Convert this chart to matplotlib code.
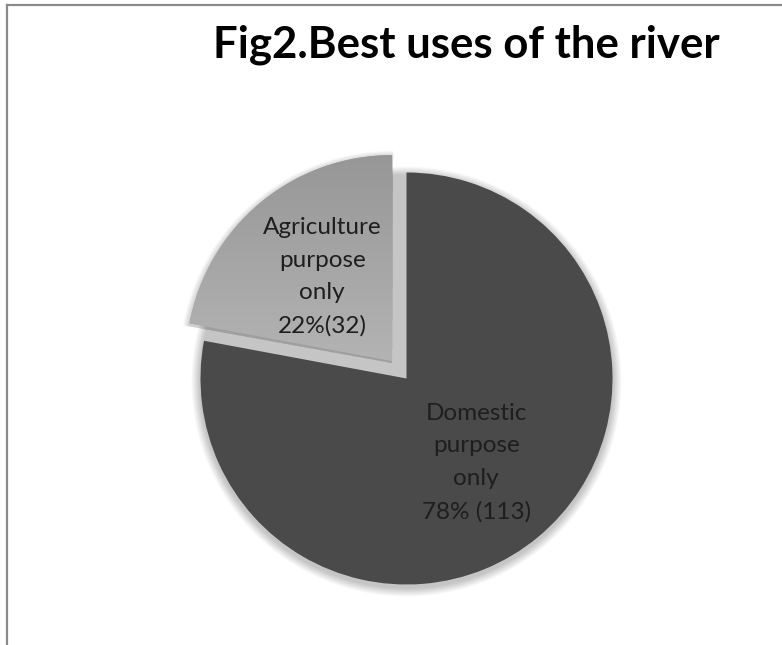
import numpy as np
import matplotlib
matplotlib.use("Agg")
import matplotlib.pyplot as plt
from matplotlib.patches import Wedge
from matplotlib.lines import Line2D

# ---- data ----
title = "Fig2.Best uses of the river"
categories = ["Domestic\npurpose\nonly", "Agriculture\npurpose\nonly"]
counts = [113, 32]
pct_sep = [" ", ""]          # reference formatting: "78% (113)" and "22%(32)"
colors = ["#4a4a4a", "#a8a8a8"]
explode_frac = [0.0, 0.11]

W, H = 782, 645
fig = plt.figure(figsize=(W / 100, H / 100), dpi=100)
fig.patch.set_facecolor("white")
ax = fig.add_axes([0, 0, 1, 1])

R = 206
C = (406.5, H - 378.5)
total = sum(counts)

# soft shadow
for k in range(10, 0, -1):
    ax.add_patch(plt.Circle((C[0], C[1] - 3), R + k * 0.9, color="black",
                            alpha=0.025, lw=0, zorder=1))

wedges, _ = ax.pie(counts, colors=colors, startangle=90, counterclock=False,
                   explode=[e * R for e in explode_frac], radius=R, center=C,
                   frame=True, wedgeprops=dict(linewidth=0, zorder=3))

# shadow for exploded wedge
w = wedges[1]
for k in range(8, 0, -1):
    ax.add_patch(Wedge((w.center[0], w.center[1] - 2), w.r + k * 0.8,
                       w.theta1 - 0.3, w.theta2 + 0.3, color="black",
                       alpha=0.022, lw=0, zorder=2))

# gradient on agriculture slice
grad = np.linspace(0, 1, 256).reshape(-1, 1)
cx, cy = w.center
im = ax.imshow(grad, cmap=matplotlib.colors.LinearSegmentedColormap.from_list(
    "g", ["#b4b4b4", "#969696"]), extent=(cx - R, cx + 5, cy + R + 5, cy - 5),
    aspect="auto", zorder=4, origin="upper")
im.set_clip_path(w)

ax.set_xlim(0, W)
ax.set_ylim(0, H)
ax.set_aspect("equal")
ax.axis("off")

# labels
for wd, cat, n, sep in zip(wedges, categories, counts, pct_sep):
    mid = np.deg2rad((wd.theta1 + wd.theta2) / 2)
    d = 0.53 * wd.r
    x = wd.center[0] + d * np.cos(mid)
    y = wd.center[1] + d * np.sin(mid)
    pct = round(n / total * 100)
    ax.text(x, y, f"{cat}\n{pct}%{sep}({n})", ha="center", va="center",
            fontsize=17.5, family="Lato", color="#1e1e1e", linespacing=1.68,
            zorder=6)

fig.text(466 / W, 1 - 45 / H, title, ha="center", va="center",
         fontsize=31.5, fontweight="bold", family="Lato", color="black")

# frame
fig.add_artist(Line2D([6.5 / W, 6.5 / W], [0, 1 - 5 / H], color="#8a8a8a", lw=1.6))
fig.add_artist(Line2D([6.5 / W, 1], [1 - 5 / H, 1 - 5 / H], color="#8a8a8a", lw=1.6))

fig.savefig("out.png", dpi=100, facecolor="white")
